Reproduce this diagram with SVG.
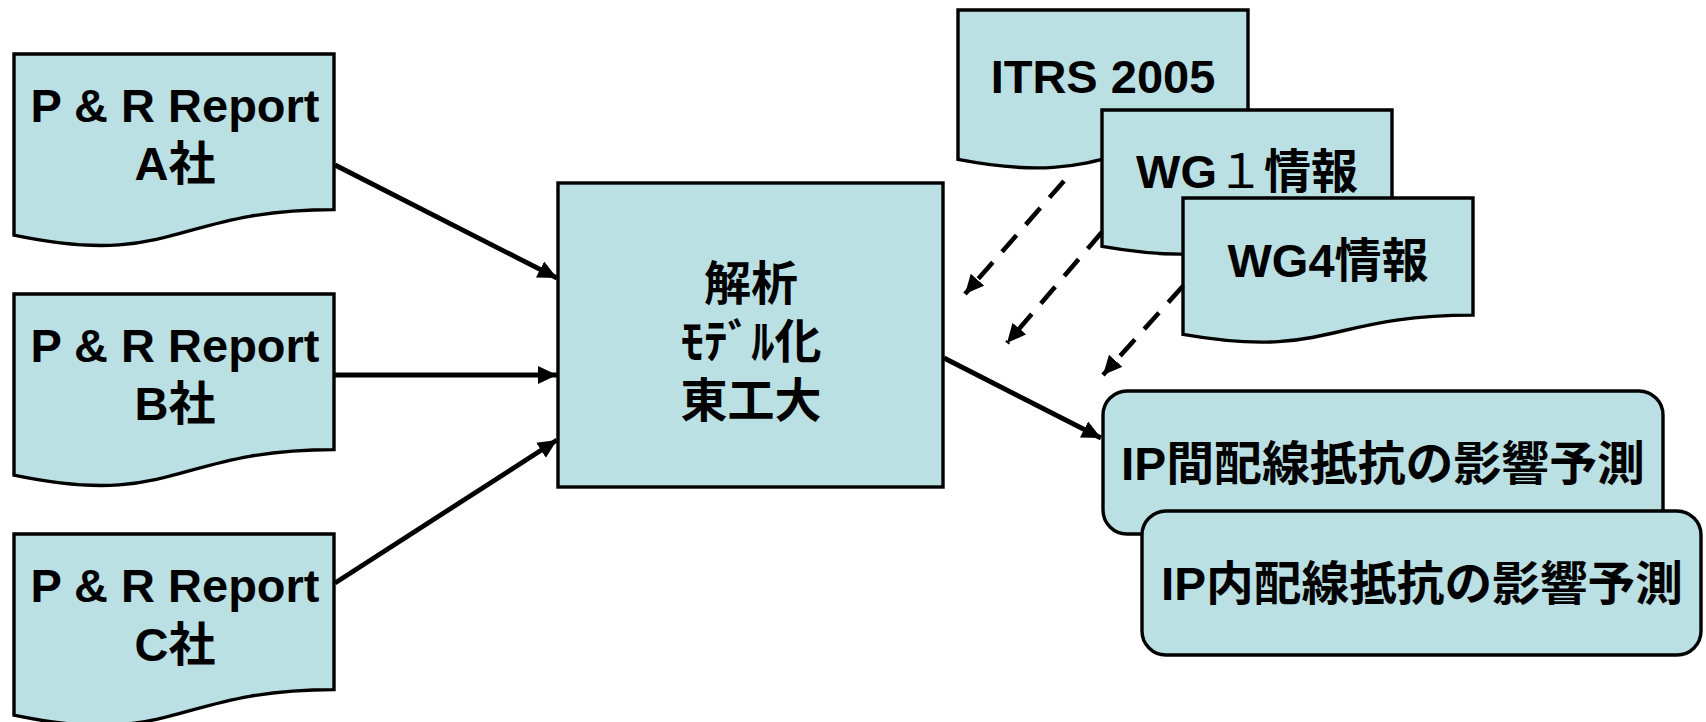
<svg xmlns="http://www.w3.org/2000/svg" width="1706" height="722" viewBox="0 0 1706 722">
<style>
.shape{fill:#BBE0E3;stroke:#000;stroke-width:3.4;stroke-linejoin:miter}
.t{font-family:"Liberation Sans","Noto Sans CJK JP",sans-serif;font-weight:bold;font-size:47px;fill:#000;text-anchor:middle}
.j{font-family:"Noto Sans CJK JP",sans-serif;font-weight:bold;font-size:47px;fill:#000;text-anchor:middle}
.solid{stroke:#000;stroke-width:4.8;fill:none}
.dash{stroke:#000;stroke-width:4.6;fill:none;stroke-dasharray:22 14}
</style>
<defs>
<marker id="ah" markerUnits="userSpaceOnUse" markerWidth="22" markerHeight="20" refX="19" refY="9" orient="auto">
<path d="M0,0 L19,9 L0,18 Z" fill="#000"/>
</marker>
</defs>

<g id="docA">
<path class="shape" d="M14,54 H334 V209.6 C174,209.6 174,268.9 14,235.2 Z"/>
<text class="t" x="175" y="122">P &amp; R Report</text>
<text class="t" x="175" y="180">A社</text>
</g>
<g id="docB">
<path class="shape" d="M14,294 H334 V449.6 C174,449.6 174,508.9 14,475.2 Z"/>
<text class="t" x="175" y="362">P &amp; R Report</text>
<text class="t" x="175" y="420">B社</text>
</g>
<g id="docC">
<path class="shape" d="M14,534 H334 V689.6 C174,689.6 174,748.9 14,715.2 Z"/>
<text class="t" x="175" y="602">P &amp; R Report</text>
<text class="t" x="175" y="661">C社</text>
</g>

<g id="center">
<rect class="shape" x="558" y="183" width="385" height="304"/>
<text class="j" x="751" y="300">解析</text>
<text class="j" x="751" y="358">ﾓﾃﾞﾙ化</text>
<text class="j" x="751" y="417">東工大</text>
</g>

<g id="itrs">
<path class="shape" d="M958,10 H1248 V138.3 C1103,138.3 1103,187.2 958,159.4 Z"/>
<text class="t" x="1103" y="93">ITRS 2005</text>
</g>
<g id="wg1">
<path class="shape" d="M1102,110 H1392 V227.1 C1247,227.1 1247,271.7 1102,246.4 Z"/>
<text class="t" x="1247" y="188">WG<tspan font-weight="normal">１</tspan>情報</text>
</g>
<g id="wg4">
<path class="shape" d="M1183,198 H1473 V315.1 C1328,315.1 1328,359.7 1183,334.4 Z"/>
<text class="t" x="1328" y="277">WG4情報</text>
</g>

<g id="ipInter">
<rect class="shape" x="1103" y="391" width="560" height="143" rx="24" ry="24"/>
<text class="t" x="1383" y="480" font-size="46" textLength="524" lengthAdjust="spacingAndGlyphs">IP間配線抵抗の影響予測</text>
</g>
<g id="ipIntra">
<rect class="shape" x="1142" y="511" width="559" height="144" rx="24" ry="24"/>
<text class="t" x="1422" y="600" font-size="46" textLength="522" lengthAdjust="spacingAndGlyphs">IP内配線抵抗の影響予測</text>
</g>

<g id="connectors">
<line class="solid" x1="335" y1="165" x2="557" y2="278" marker-end="url(#ah)"/>
<line class="solid" x1="335" y1="375" x2="557" y2="375" marker-end="url(#ah)"/>
<line class="solid" x1="335" y1="583" x2="557" y2="440" marker-end="url(#ah)"/>
<line class="solid" x1="944" y1="358" x2="1101" y2="438" marker-end="url(#ah)"/>
<line class="dash" x1="1064" y1="181" x2="965" y2="294" marker-end="url(#ah)"/>
<line class="dash" x1="1102" y1="232" x2="1007" y2="343" marker-end="url(#ah)"/>
<line class="dash" x1="1183" y1="286" x2="1103" y2="375" marker-end="url(#ah)"/>
</g>
</svg>
